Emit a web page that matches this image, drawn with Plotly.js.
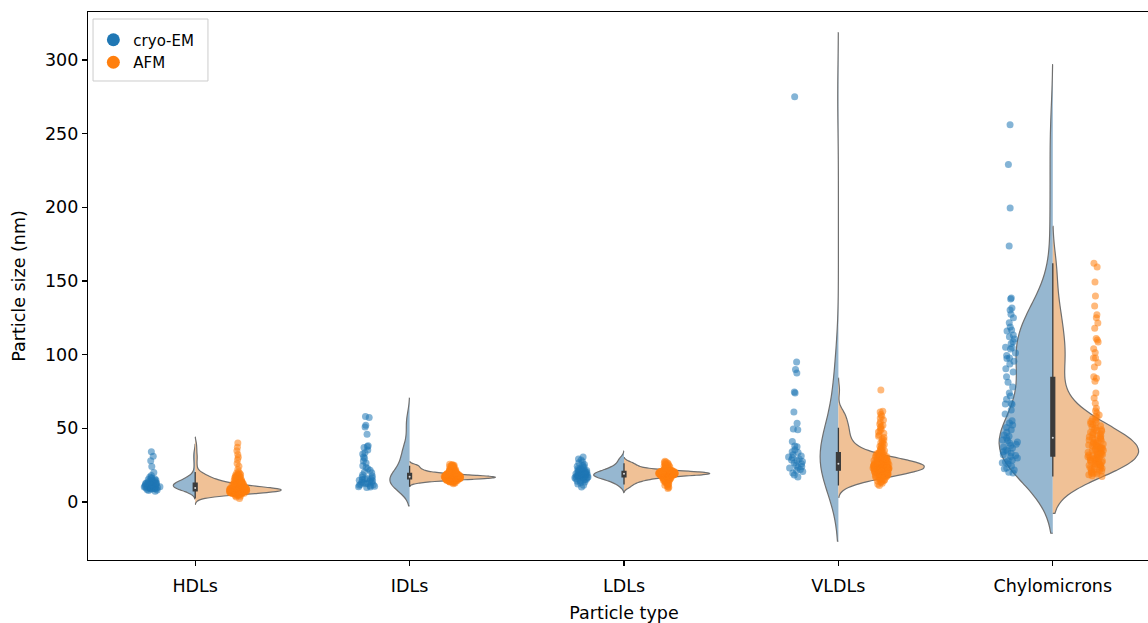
<!DOCTYPE html>
<html><head><meta charset="utf-8">
<script src="https://cdn.plot.ly/plotly-3.0.1.min.js"></script>
<style>html,body{margin:0;padding:0;overflow:hidden;background:#fff}#chart{width:1162px;height:623px}</style>
</head><body><div id="chart"></div>
<script>
const categories = ['HDLs', 'IDLs', 'LDLs', 'VLDLs', 'Chylomicrons'];
const seriesNames = ['cryo-EM', 'AFM'];
const yTicks = [0, 50, 100, 150, 200, 250, 300];

const hdlCryo = [34, 31, 28, 24, 20, 18,
  7.2, 7.8, 8.1, 8.4, 8.7, 8.9, 9.1, 9.3, 9.5, 9.6, 9.8, 9.9, 10.1, 10.2, 10.3, 10.5, 10.6, 10.8, 10.9, 11.0,
  11.2, 11.3, 11.5, 11.6, 11.8, 12.0, 12.1, 12.3, 12.5, 12.7, 12.9, 13.1, 13.3, 13.6, 13.9, 14.2, 14.5, 14.8,
  15.2, 15.6, 16.0, 16.5, 17.0, 9.0];
const hdlAfm = [2.4, 3.3, 3.8, 4.2, 4.5, 4.7, 4.9,
  5.1, 5.2, 5.4, 5.5, 5.6, 5.7, 5.8, 5.8, 5.9, 5.9,
  6.0, 6.1, 6.1, 6.2, 6.2, 6.3, 6.3, 6.4, 6.4, 6.4, 6.5, 6.5, 6.5, 6.6, 6.6, 6.7, 6.7, 6.7, 6.8, 6.8, 6.8, 6.9, 6.9, 6.9, 6.9,
  7.0, 7.0, 7.0, 7.1, 7.1, 7.1, 7.2, 7.2, 7.2, 7.3, 7.3, 7.3, 7.3, 7.4, 7.4, 7.4, 7.5, 7.5, 7.5, 7.5, 7.6, 7.6, 7.6, 7.7, 7.7, 7.7, 7.8, 7.8, 7.8, 7.9, 7.9, 7.9,
  8.0, 8.0, 8.0, 8.1, 8.1, 8.1, 8.2, 8.2, 8.2, 8.3, 8.3, 8.3, 8.4, 8.4, 8.4, 8.5, 8.5, 8.5, 8.6, 8.6, 8.7, 8.7, 8.7, 8.8, 8.8, 8.9, 8.9, 8.9,
  9.0, 9.0, 9.1, 9.1, 9.2, 9.2, 9.3, 9.3, 9.4, 9.4, 9.5, 9.5, 9.6, 9.6, 9.7, 9.7, 9.8, 9.8, 9.9, 9.9,
  10.0, 10.1, 10.2, 10.2, 10.3, 10.4, 10.5, 10.5, 10.6, 10.7, 10.8, 10.8, 10.9, 10.9,
  11.0, 11.1, 11.2, 11.3, 11.4, 11.5, 11.6, 11.7, 11.8, 11.9, 11.9,
  12.0, 12.1, 12.3, 12.4, 12.5, 12.6, 12.7, 12.8, 12.9,
  13.1, 13.2, 13.4, 13.5, 13.7, 13.8, 13.9, 14.1, 14.3, 14.4, 14.6, 14.8, 14.9,
  15.1, 15.3, 15.5, 15.7, 15.9, 16.2, 16.4, 16.7, 16.9, 17.2, 17.5, 17.8, 18.1, 18.5, 18.8, 19.3, 19.7, 20.4,
  22.0, 24.2, 26.1, 28.6, 30.4, 32.3, 34.8, 37.2, 40.1];

const idlCryo = [58.0, 57.3, 52.1, 50.8, 46.0, 38.1, 37.6, 37.0, 35.2, 33.4, 32.6, 30.5, 29.6, 26.4, 23.4, 22.6,
  20.4, 19.8, 17.6, 17.0, 16.5, 16.0, 15.5, 15.2, 14.8, 14.4, 14.0, 13.6, 13.3, 13.0, 12.6, 12.3, 12.0, 11.6,
  11.3, 11.0, 10.7, 10.4, 10.1, 9.8, 18.5, 21.5, 27.8, 24.6, 15.8];
const idlAfm = [12.4, 12.8, 13.1, 13.3, 13.5, 13.6, 13.8, 13.9,
  14.0, 14.1, 14.2, 14.3, 14.4, 14.4, 14.5, 14.6, 14.6, 14.7, 14.8, 14.8, 14.9, 14.9,
  15.0, 15.0, 15.1, 15.1, 15.2, 15.2, 15.3, 15.3, 15.3, 15.4, 15.4, 15.5, 15.5, 15.5, 15.6, 15.6, 15.6, 15.7, 15.7, 15.7, 15.8, 15.8, 15.8, 15.9, 15.9, 15.9, 15.9, 15.4,
  16.0, 16.0, 16.0, 16.1, 16.1, 16.1, 16.1, 16.2, 16.2, 16.2, 16.2, 16.3, 16.3, 16.3, 16.3, 16.4, 16.4, 16.4, 16.4, 16.5, 16.5, 16.5, 16.5, 16.6, 16.6, 16.6, 16.6, 16.7, 16.7, 16.7, 16.7, 16.8, 16.8, 16.8, 16.8, 16.9, 16.9, 16.9, 16.9, 16.5,
  17.0, 17.0, 17.0, 17.0, 17.1, 17.1, 17.1, 17.1, 17.2, 17.2, 17.2, 17.2, 17.3, 17.3, 17.3, 17.3, 17.4, 17.4, 17.4, 17.4, 17.5, 17.5, 17.5, 17.6, 17.6, 17.6, 17.7, 17.7, 17.7, 17.8, 17.8, 17.8, 17.9, 17.9, 17.9, 17.2, 17.5, 17.0,
  18.0, 18.0, 18.1, 18.1, 18.2, 18.2, 18.3, 18.3, 18.4, 18.4, 18.5, 18.5, 18.5, 18.6, 18.6, 18.7, 18.7, 18.8, 18.8, 18.9, 18.9, 18.2, 18.4, 18.6,
  19.0, 19.1, 19.2, 19.2, 19.3, 19.4, 19.5, 19.5, 19.6, 19.7, 19.8, 19.8, 19.9, 19.4,
  20.1, 20.2, 20.4, 20.5, 20.6, 20.7, 20.8, 20.9, 21.1, 21.3, 21.4, 21.6, 21.8, 21.9,
  22.1, 22.4, 22.6, 22.7, 22.9, 23.2, 23.4, 23.7, 23.9, 24.1, 24.4, 24.6, 24.9, 25.1, 25.3, 25.6];

const ldlCryo = [30.5, 29.2, 28.4, 27.3, 26.6, 25.4, 24.8, 24.2, 23.7, 23.1, 22.6, 22.2, 21.8, 21.4, 21.1, 20.8,
  20.5, 20.2, 19.9, 19.7, 19.4, 19.2, 19.0, 18.8, 18.6, 18.4, 18.2, 18.0, 17.8, 17.6, 17.4, 17.2, 17.0, 16.8,
  16.6, 16.4, 16.1, 15.8, 15.5, 15.2, 14.8, 14.4, 14.0, 13.5, 13.0, 12.2, 11.3, 10.2, 19.1, 18.5, 17.9, 20.0,
  21.0, 16.9, 22.9];
const ldlAfm = [9.2, 9.8, 10.4, 10.9, 11.3, 11.8, 12.2, 12.6, 12.9, 13.2, 13.5, 13.7, 13.9,
  14.1, 14.3, 14.6, 14.8, 15.0, 15.2, 15.3, 15.5, 15.6, 15.8, 15.9, 15.4,
  16.0, 16.1, 16.3, 16.4, 16.5, 16.6, 16.7, 16.8, 16.9, 17.0, 17.1, 17.2, 17.3, 17.4, 17.5, 17.6, 17.7, 17.7, 17.8, 17.8, 17.9, 17.9,
  18.0, 18.0, 18.1, 18.1, 18.2, 18.2, 18.3, 18.3, 18.4, 18.4, 18.5, 18.5, 18.5, 18.6, 18.6, 18.7, 18.7, 18.8, 18.8, 18.8, 18.9, 18.9, 18.9, 18.6,
  19.0, 19.0, 19.0, 19.1, 19.1, 19.1, 19.2, 19.2, 19.2, 19.3, 19.3, 19.3, 19.4, 19.4, 19.4, 19.5, 19.5, 19.5, 19.6, 19.6, 19.6, 19.7, 19.7, 19.7, 19.8, 19.8, 19.8, 19.9, 19.9, 19.9,
  20.0, 20.0, 20.1, 20.1, 20.2, 20.2, 20.3, 20.3, 20.4, 20.4, 20.5, 20.5, 20.6, 20.6, 20.7, 20.7, 20.8, 20.8, 20.9, 20.9, 20.3, 20.6,
  21.0, 21.1, 21.2, 21.3, 21.4, 21.5, 21.5, 21.6, 21.7, 21.8, 21.9, 21.2,
  22.1, 22.3, 22.5, 22.7, 22.9, 23.1, 23.3, 23.5, 23.7, 23.9,
  24.2, 24.5, 24.8, 25.1, 25.4, 25.7, 25.9, 26.3, 26.8, 27.2, 27.7];

const vldlCryo = [275, 95, 90, 87.5, 74.6, 74, 61, 53.5, 49.5, 49, 41, 38, 37.5, 34, 33.5, 32, 30.5, 30, 28.5,
  25, 24, 23, 22, 19.7, 18.3, 17, 26.5, 29.2, 21.3, 35.5, 27.4, 20.6, 31.2, 26.0, 23.6, 28.0];
const vldlAfm = [11.2, 12.0, 12.7, 13.3, 13.8,
  14.2, 14.6, 15.0, 15.3, 15.6, 15.9, 16.2, 16.4, 16.7, 16.9,
  17.1, 17.3, 17.5, 17.6, 17.8, 18.0, 18.2, 18.3, 18.5, 18.7, 18.8, 19.0, 19.1, 19.3, 19.4, 19.6, 19.8, 19.9,
  20.0, 20.1, 20.2, 20.4, 20.5, 20.6, 20.8, 20.9, 21.0, 21.1, 21.2, 21.4, 21.5, 21.6, 21.8, 21.9, 22.0, 22.1, 22.2, 22.3, 22.4, 22.5, 22.6, 22.7, 22.8, 22.9,
  23.0, 23.1, 23.2, 23.3, 23.4, 23.5, 23.6, 23.7, 23.8, 23.9, 24.0, 24.1, 24.2, 24.3, 24.4, 24.5, 24.6, 24.7, 24.8, 24.9, 25.0, 25.1, 25.2, 25.3, 25.4, 25.5, 25.6, 25.7, 25.8, 25.9,
  26.0, 26.1, 26.3, 26.4, 26.5, 26.7, 26.8, 26.9, 27.1, 27.2, 27.4, 27.5, 27.6, 27.8, 27.9, 28.0, 28.2, 28.3, 28.5, 28.6, 28.8, 28.9,
  29.1, 29.3, 29.5, 29.7, 29.9, 30.1, 30.3, 30.5, 30.7, 30.9, 31.2, 31.4, 31.6, 31.9,
  32.2, 32.5, 32.8, 33.1, 33.4, 33.7, 34.0, 34.4, 34.8,
  35.3, 35.9, 36.5, 37.1, 37.8, 38.4, 39.0, 39.6, 40.3, 41.2, 42.0, 42.9, 43.7, 44.6,
  45.5, 46.6, 47.5, 48.4, 49.3, 50.4, 51.3, 52.1, 53.0, 54.2, 55.6, 57.0, 58.1, 59.4, 61.1, 61.5, 76.0,
  24.3, 25.6, 22.7, 26.6];

const chyloCryo = [256, 229, 199.5, 173.8, 138.5, 137.8, 131.7, 130.3, 125, 118.8, 116.7, 116, 110.6, 105, 104.8,
  103.8, 97.7, 97.3, 93.7, 88.3, 85, 78, 74, 72, 66.5, 66.3, 66.8, 59.7, 53.6, 52.3, 49, 45.5, 43.4, 40.7, 40,
  37.3, 36.7, 34, 33.3, 32, 29.9, 27.1, 25.8, 23, 21.7, 19.7, 20.1,
  22.5, 24.4, 26.6, 28.3, 30.8, 31.5, 35.2, 38.4, 42.1, 44.6, 47.3, 55.1, 50.6,
  101.2, 107.5, 113.4, 99.4, 62.5, 69.8, 81.2, 90.4, 34.6, 39.1, 41.8, 27.9,
  95.5, 108.8, 112.1, 121.7, 127.4];
const chyloAfm = [17.3, 17.8, 18.4, 18.9, 19.3, 19.8,
  20.2, 20.6, 21.1, 21.5, 22.0, 22.4, 22.8, 23.2, 23.7, 24.1, 24.5, 24.9,
  25.2, 25.5, 25.9, 26.2, 26.5, 26.9, 27.2, 27.5, 27.9, 28.2, 28.5, 28.8, 29.1, 29.5, 29.8,
  30.1, 30.4, 30.7, 31.0, 31.3, 31.6, 31.9, 32.2, 32.5, 32.8, 33.1, 33.4, 33.7, 34.0, 34.4, 34.7,
  35.1, 35.4, 35.7, 36.0, 36.3, 36.7, 37.0, 37.3, 37.7, 38.0, 38.3, 38.7, 39.0, 39.4, 39.7,
  40.2, 40.6, 41.1, 41.5, 42.0, 42.4, 42.9, 43.3, 43.8, 44.2, 44.7,
  45.3, 45.8, 46.3, 46.9, 47.4, 48.0, 48.5, 49.1, 49.6,
  50.4, 51.1, 51.8, 52.5, 53.2, 53.9, 54.6, 55.5, 56.4, 57.3, 58.2, 59.1, 60.5, 62.0, 63.6,
  67, 70.6, 74, 82, 84, 85, 91.6, 97.7, 97.7, 108.6, 110, 111, 125, 127, 133, 139.8, 149.3, 159.5, 162,
  94.5, 101.5, 104, 118, 121.5];

const cryoEM = [hdlCryo, idlCryo, ldlCryo, vldlCryo, chyloCryo];
const afm = [hdlAfm, idlAfm, ldlAfm, vldlAfm, chyloAfm];

const COLORS = {
  cryoPt: '#1f77b4', afmPt: '#ff7f0e',
  cryoFill: 'rgb(150,183,208)', afmFill: 'rgb(240,193,150)',
  edge: '#6f6f6f', box: '#3b3b3b'
};

function sampleStd(a) {
  const m = a.reduce((s, v) => s + v, 0) / a.length;
  return Math.sqrt(a.reduce((s, v) => s + (v - m) * (v - m), 0) / (a.length - 1));
}
function scott(a) { return sampleStd(a) * Math.pow(a.length, -0.2); }
function median(a) {
  const s = a.slice().sort((p, q) => p - q);
  const n = s.length;
  return n % 2 ? s[(n - 1) / 2] : (s[n / 2 - 1] + s[n / 2]) / 2;
}
function repeatCat(cat, n) { return new Array(n).fill(cat); }

const FULL = 0.8;
const traces = [];

categories.forEach((cat, i) => {
  const groups = [cryoEM[i], afm[i]];
  const nMax = Math.max(groups[0].length, groups[1].length);
  groups.forEach((vals, h) => {
    traces.push({
      type: 'violin',
      x: repeatCat(cat, vals.length),
      y: vals,
      side: h === 0 ? 'negative' : 'positive',
      width: FULL * vals.length / nMax,
      bandwidth: scott(vals),
      spanmode: 'soft',
      fillcolor: h === 0 ? COLORS.cryoFill : COLORS.afmFill,
      line: {color: COLORS.edge, width: 1.2},
      points: false,
      box: {visible: false},
      meanline: {visible: false},
      showlegend: false,
      hoverinfo: 'skip'
    });
  });
});

// inner box of the combined data of each category (whiskers at 1.5 IQR)
const boxX = [], boxY = [], medX = [], medY = [];
categories.forEach((cat, i) => {
  const all = cryoEM[i].concat(afm[i]);
  all.forEach(v => { boxX.push(cat); boxY.push(v); });
  medX.push(cat); medY.push(median(all));
});
traces.push({
  type: 'box', x: boxX, y: boxY, width: 0.018,
  fillcolor: COLORS.box, line: {color: COLORS.box, width: 1.3},
  whiskerwidth: 0, boxpoints: 'outliers',
  marker: {size: 0, opacity: 0, outliercolor: 'rgba(0,0,0,0)', line: {width: 0}},
  showlegend: false, hoverinfo: 'skip'
});
traces.push({
  type: 'scatter', mode: 'markers', x: medX, y: medY,
  marker: {color: 'white', size: 2, opacity: 0.8}, showlegend: false, hoverinfo: 'skip'
});

// strip points
[cryoEM, afm].forEach((series, h) => {
  const xs = [], ys = [];
  categories.forEach((cat, i) => series[i].forEach(v => { xs.push(cat); ys.push(v); }));
  traces.push({
    type: 'box', x: xs, y: ys, width: FULL,
    boxpoints: 'all', jitter: 0.1, pointpos: h === 0 ? -0.5 : 0.5,
    fillcolor: 'rgba(0,0,0,0)', line: {color: 'rgba(0,0,0,0)', width: 0},
    whiskerwidth: 0,
    marker: {color: h === 0 ? COLORS.cryoPt : COLORS.afmPt, size: 7, opacity: 0.55, line: {width: 0}},
    showlegend: false, hoverinfo: 'skip'
  });
});

// legend entries
seriesNames.forEach((nm, h) => {
  traces.push({
    type: 'scatter', mode: 'markers', x: [null], y: [null], name: nm,
    marker: {color: h === 0 ? COLORS.cryoPt : COLORS.afmPt, size: 13}
  });
});

const axisCommon = {
  showline: true, mirror: true, linecolor: 'black', linewidth: 1.2,
  ticks: 'outside', ticklen: 5, tickwidth: 1.2, tickcolor: 'black',
  showgrid: false, zeroline: false, tickfont: {size: 17.5}
};

const layout = {
  width: 1162, height: 623,
  margin: {l: 88, r: 2, t: 12, b: 63},
  paper_bgcolor: 'white', plot_bgcolor: 'white',
  font: {family: 'DejaVu Sans, sans-serif', size: 17.5, color: 'black'},
  violinmode: 'overlay', boxmode: 'overlay',
  showlegend: true,
  legend: {x: 0.005, y: 0.979, xanchor: 'left', yanchor: 'top',
    borderwidth: 0, bgcolor: 'rgba(0,0,0,0)', font: {size: 15}},
  shapes: [{type: 'rect', xref: 'paper', yref: 'paper',
    x0: 0.0047, x1: 0.1119, y0: 0.8741, y1: 0.9872,
    line: {color: '#cccccc', width: 1}, fillcolor: 'rgba(255,255,255,0.8)', layer: 'above'}],
  xaxis: Object.assign({}, axisCommon, {
    type: 'category', categoryorder: 'array', categoryarray: categories,
    range: [-0.5, 4.5], ticklabelstandoff: 5,
    title: {text: 'Particle type', font: {size: 17.5}, standoff: 11}
  }),
  yaxis: Object.assign({}, axisCommon, {
    range: [-39.4, 332.6], tickvals: yTicks, ticktext: yTicks.map(String),
    title: {text: 'Particle size (nm)', font: {size: 17.5}, standoff: 14}
  })
};

Plotly.newPlot('chart', traces, layout, {displayModeBar: false, staticPlot: true});
</script>
</body></html>
